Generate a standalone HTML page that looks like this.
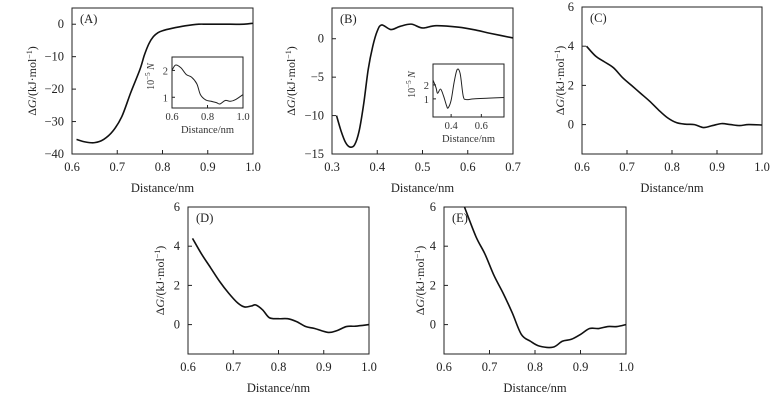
<!DOCTYPE html>
<html><head><meta charset="utf-8"><style>
body{margin:0;background:#fff}
svg{display:block;font-family:"Liberation Serif",serif}
</style></head><body>
<svg id="c" width="782" height="405" viewBox="0 0 782 405"></svg>
<script>
const xA=[0.61,0.63,0.65,0.67,0.69,0.71,0.73,0.75,0.76,0.77,0.78,0.79,0.8,0.82,0.85,0.88,0.9,0.95,0.98,1.0];
const yA=[-35.5,-36.3,-36.5,-35.5,-33,-28.5,-21,-14,-9.5,-6,-3.8,-2.6,-2,-1.3,-0.5,0,0,0,0,0.3];
const xAi=[0.6,0.62,0.65,0.68,0.71,0.74,0.76,0.79,0.82,0.85,0.87,0.9,0.93,0.96,1.0];
const yAi=[2.0,2.2,2.1,1.85,1.75,1.5,1.1,0.9,0.85,0.8,0.75,0.88,0.85,0.92,1.1];
const xB=[0.31,0.32,0.33,0.34,0.35,0.36,0.37,0.38,0.39,0.40,0.41,0.43,0.45,0.475,0.5,0.53,0.58,0.62,0.65,0.7];
const yB=[-10,-12,-13.5,-14.1,-13.8,-12,-8.5,-4,-1,1.0,1.8,1.2,1.6,1.9,1.4,1.7,1.5,1.1,0.7,0.1];
const xBi=[0.28,0.30,0.31,0.33,0.35,0.37,0.38,0.40,0.42,0.44,0.46,0.48,0.50,0.55,0.65,0.75];
const yBi=[2.35,1.8,1.4,1.7,1.2,0.5,0.35,0.9,2.2,3.1,2.8,1.2,0.95,1.0,1.05,1.1];
const xC=[0.61,0.63,0.65,0.67,0.69,0.71,0.73,0.75,0.77,0.79,0.81,0.83,0.85,0.87,0.89,0.91,0.93,0.95,0.97,1.0];
const yC=[4.0,3.5,3.2,2.9,2.4,2.0,1.6,1.2,0.75,0.35,0.1,0.02,0,-0.15,-0.05,0.05,0,-0.05,0,-0.02];
const xD=[0.61,0.63,0.65,0.67,0.69,0.71,0.725,0.74,0.75,0.765,0.78,0.8,0.82,0.84,0.86,0.88,0.91,0.93,0.95,0.97,1.0];
const yD=[4.4,3.6,2.9,2.2,1.6,1.1,0.9,0.95,1.0,0.75,0.35,0.3,0.3,0.15,-0.1,-0.2,-0.4,-0.3,-0.1,-0.08,0];
const xE=[0.645,0.67,0.69,0.71,0.73,0.75,0.77,0.79,0.81,0.84,0.86,0.88,0.9,0.92,0.94,0.96,0.98,1.0];
const yE=[6.0,4.5,3.6,2.5,1.6,0.6,-0.5,-0.85,-1.1,-1.15,-0.85,-0.75,-0.5,-0.2,-0.2,-0.1,-0.1,0];
const tA=[0,-10,-20,-30,-40], tB=[0,-5,-10,-15], tCDE=[0,2,4,6];
const xt1=[0.6,0.7,0.8,0.9,1.0], xt2=[0.3,0.4,0.5,0.6,0.7];
const NS="http://www.w3.org/2000/svg", svg=document.getElementById('c');
function mk(t,a,p,txt){const e=document.createElementNS(NS,t);for(const k in a)e.setAttribute(k,a[k]);if(txt!==undefined)e.textContent=txt;(p||svg).appendChild(e);return e;}
function fmt(v,d){return (v<0?'\u2212':'')+Math.abs(v).toFixed(d);}
function smooth(P){let d='M'+P[0][0]+','+P[0][1];
  for(let i=0;i<P.length-1;i++){const p0=P[Math.max(0,i-1)],p1=P[i],p2=P[i+1],p3=P[Math.min(P.length-1,i+2)];
    const c1=[p1[0]+(p2[0]-p0[0])/6,p1[1]+(p2[1]-p0[1])/6],c2=[p2[0]-(p3[0]-p1[0])/6,p2[1]-(p3[1]-p1[1])/6];
    d+=` C${c1[0]},${c1[1]} ${c2[0]},${c2[1]} ${p2[0]},${p2[1]}`;}
  return d;}
function panel(o){
  const g=mk('g',{});
  
  
  const sx=v=>o.l+(v-o.x0)/(o.x1-o.x0)*(o.r-o.l);
  const sy=v=>o.b-(v-o.y0)/(o.y1-o.y0)*(o.b-o.t);
  const fr=mk('rect',{x:o.l,y:o.t,width:o.r-o.l,height:o.b-o.t,fill:'none',stroke:'#222','stroke-width':1},g);
  
  o.xt.forEach(v=>{const x=sx(v);mk('line',{x1:x,x2:x,y1:o.b,y2:o.b-4,stroke:'#222'},g);
    const t=mk('text',{x:x,y:o.b+17,'text-anchor':'middle','font-size':12.5,fill:'#222'},g,v.toFixed(1));
    });
  o.yt.forEach(v=>{const y=sy(v);mk('line',{x1:o.l,x2:o.l+4,y1:y,y2:y,stroke:'#222'},g);
    const t=mk('text',{x:o.l-8,y:y+4,'text-anchor':'end','font-size':12.5,fill:'#222'},g,fmt(v,0));
    });
  const xl=mk('text',{x:(o.l+o.r)/2,y:o.b+38,'text-anchor':'middle','font-size':12.5,fill:'#222'},g,'Distance/nm');
  
  const yl=mk('text',{x:0,y:0,'text-anchor':'middle','font-size':12,fill:'#222',transform:`translate(${o.ytx},${(o.t+o.b)/2}) rotate(-90)`},g);
  yl.innerHTML='Δ<tspan font-style="italic">G</tspan>/(kJ·mol<tspan font-size="8" dy="-4">−1</tspan><tspan dy="4">)</tspan>';
  
  const lb=mk('text',{x:o.l+8,y:o.t+15,'font-size':12.5,fill:'#222'},g,o.label);
  
  const p=mk('path',{d:smooth(o.xs.map((x,i)=>[sx(x),sy(o.ys[i])])),fill:'none',stroke:'#111','stroke-width':1.6,'stroke-linejoin':'round'},g);
  
  if(o.inset){const n=o.inset;
    const ix=v=>n.l+(v-n.x0)/(n.x1-n.x0)*(n.r-n.l), iy=v=>n.b-(v-n.y0)/(n.y1-n.y0)*(n.b-n.t);
    const ig=mk('g',{},g);
    mk('rect',{x:n.l,y:n.t,width:n.r-n.l,height:n.b-n.t,fill:'#fff',stroke:'#222'},ig);
    n.xt.forEach(v=>{mk('line',{x1:ix(v),x2:ix(v),y1:n.b,y2:n.b-3,stroke:'#222'},ig);
      mk('text',{x:ix(v),y:n.b+12,'text-anchor':'middle','font-size':10.5,fill:'#333'},ig,v.toFixed(1));});
    n.yt.forEach(v=>{mk('line',{x1:n.l,x2:n.l+3,y1:iy(v),y2:iy(v),stroke:'#222'},ig);
      mk('text',{x:n.l-4,y:iy(v)+4,'text-anchor':'end','font-size':10.5,fill:'#333'},ig,String(v));});
    mk('text',{x:(n.l+n.r)/2,y:n.b+25,'text-anchor':'middle','font-size':10.5,fill:'#333'},ig,'Distance/nm');
    const it=mk('text',{x:0,y:0,'text-anchor':'middle','font-size':10,fill:'#333',transform:`translate(${n.l-18},${(n.t+n.b)/2-6}) rotate(-90)`},ig);
    it.innerHTML='10<tspan font-size="7" dy="-4">−5</tspan><tspan dy="4"> </tspan><tspan font-style="italic">N</tspan>';
    const ip=mk('path',{d:smooth(n.xs.map((x,i)=>[ix(x),iy(n.ys[i])])),fill:'none',stroke:'#222','stroke-width':1},ig);
    
  }
}
panel({name:'panel-a',label:'(A)',l:72,r:253,t:8,b:154,x0:0.6,x1:1.0,y0:-40,y1:5,xt:xt1,yt:tA,ytx:36,xs:xA,ys:yA,
  inset:{l:172,r:243,t:57,b:108,x0:0.6,x1:1.0,y0:0.6,y1:2.5,xt:[0.6,0.8,1.0],yt:[1,2],xs:xAi,ys:yAi}});
panel({name:'panel-b',label:'(B)',l:332,r:513,t:8,b:154,x0:0.3,x1:0.7,y0:-15,y1:4,xt:xt2,yt:tB,ytx:295,xs:xB,ys:yB,
  inset:{l:433,r:504,t:64,b:117,x0:0.28,x1:0.75,y0:-0.3,y1:3.5,xt:[0.4,0.6],yt:[1,2],xs:xBi,ys:yBi}});
panel({name:'panel-c',label:'(C)',l:582,r:762,t:7,b:154,x0:0.6,x1:1.0,y0:-1.5,y1:6,xt:xt1,yt:tCDE,ytx:564,xs:xC,ys:yC});
panel({name:'panel-d',label:'(D)',l:188,r:369,t:207,b:354,x0:0.6,x1:1.0,y0:-1.5,y1:6,xt:xt1,yt:tCDE,ytx:164,xs:xD,ys:yD});
panel({name:'panel-e',label:'(E)',l:444,r:626,t:207,b:354,x0:0.6,x1:1.0,y0:-1.5,y1:6,xt:xt1,yt:tCDE,ytx:424,xs:xE,ys:yE});
</script>
</body></html>
